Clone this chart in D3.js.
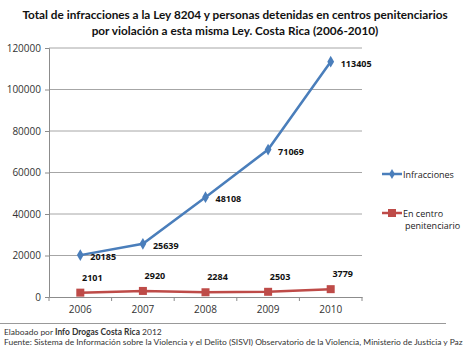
<!DOCTYPE html>
<html>
<head>
<meta charset="utf-8">
<script src="https://cdn.jsdelivr.net/npm/d3@7"></script>
<style>
  body { margin: 0; background: #fff; }
  svg { display: block; }
  text { font-family: "Open Sans", "DejaVu Sans", sans-serif; }
</style>
</head>
<body>
<div id="chart"></div>
<script>
// chart data
const years = ["2006", "2007", "2008", "2009", "2010"];
const infracciones = [20185, 25639, 48108, 71069, 113405];
const enCentro = [2101, 2920, 2284, 2503, 3779];
const yTicks = [0, 20000, 40000, 60000, 80000, 100000, 120000];

const titleLines = [
    "Total de infracciones a la Ley 8204 y personas detenidas en centros penitenciarios",
    "por violación a esta misma Ley. Costa Rica (2006-2010)"
];

// dimensions
const width = 470, height = 349;
const plot = { left: 49, right: 362, top: 48, bottom: 297 };

const svg = d3.select("#chart").append("svg")
    .attr("width", width)
    .attr("height", height);

// title, sized so the first line fits the width seen in the reference
const titles = svg.append("g").selectAll("text")
    .data(titleLines)
    .enter()
    .append("text")
    .attr("x", 235)
    .attr("y", (d, i) => 19 + i * 16)
    .attr("text-anchor", "middle")
    .attr("font-size", "13px")
    .attr("font-weight", "bold")
    .attr("fill", "#111")
    .style("font-family", "Lato, sans-serif")
    .text(d => d);
const firstLen = titles.node().getComputedTextLength();
const titleSize = Math.min(13, 13 * 426 / firstLen);
titles.attr("font-size", titleSize + "px");

// scales
const xScale = d3.scaleBand()
    .domain(years)
    .range([plot.left, plot.right]);

const yScale = d3.scaleLinear()
    .domain([0, 120000])
    .range([plot.bottom, plot.top]);

// gridlines
svg.append("g")
    .selectAll("line")
    .data(yTicks.filter(d => d > 0))
    .enter()
    .append("line")
    .attr("x1", plot.left)
    .attr("x2", plot.right)
    .attr("y1", d => yScale(d))
    .attr("y2", d => yScale(d))
    .attr("stroke", "#a6a6a6")
    .attr("stroke-width", 1);

// y axis
const yAxis = svg.append("g")
    .attr("transform", `translate(${plot.left},0)`)
    .call(d3.axisLeft(yScale).tickValues(yTicks).tickSize(4).tickPadding(4).tickFormat(d3.format("d")));
yAxis.select(".domain").attr("stroke", "#8c8c8c");
yAxis.selectAll(".tick line").attr("stroke", "#8c8c8c");
yAxis.selectAll("text").attr("font-size", "10px").attr("fill", "#333")
    .style("font-family", "'Open Sans', sans-serif");

// x axis
const xAxis = svg.append("g")
    .attr("transform", `translate(0,${plot.bottom})`)
    .call(d3.axisBottom(xScale).tickSize(0).tickPadding(9));
xAxis.select(".domain").attr("stroke", "#8c8c8c");
xAxis.selectAll("text").attr("font-size", "10px").attr("fill", "#333")
    .style("font-family", "'Open Sans', sans-serif");

// x tick marks at category boundaries
const bounds = years.map(y => xScale(y)).concat([xScale(years[years.length - 1]) + xScale.bandwidth()]);
svg.append("g")
    .selectAll("line")
    .data(bounds)
    .enter()
    .append("line")
    .attr("x1", d => d)
    .attr("x2", d => d)
    .attr("y1", plot.bottom)
    .attr("y2", plot.bottom + 4)
    .attr("stroke", "#8c8c8c");

const xCenter = (d, i) => xScale(years[i]) + xScale.bandwidth() / 2;

const lineGen = d3.line()
    .x((d, i) => xCenter(d, i))
    .y(d => yScale(d));

const blue = "#4a7ebb";
const red = "#be4b48";

// red series
svg.append("path")
    .datum(enCentro)
    .attr("d", lineGen)
    .attr("fill", "none")
    .attr("stroke", red)
    .attr("stroke-width", 2.5);

svg.append("g")
    .selectAll("rect")
    .data(enCentro)
    .enter()
    .append("rect")
    .attr("x", (d, i) => xCenter(d, i) - 4)
    .attr("y", d => yScale(d) - 4)
    .attr("width", 8)
    .attr("height", 8)
    .attr("fill", red);

// blue series
svg.append("path")
    .datum(infracciones)
    .attr("d", lineGen)
    .attr("fill", "none")
    .attr("stroke", blue)
    .attr("stroke-width", 2.5);

svg.append("g")
    .selectAll("path")
    .data(infracciones)
    .enter()
    .append("path")
    .attr("d", d3.symbol().type(d3.symbolDiamond).size(40))
    .attr("transform", (d, i) => `translate(${xCenter(d, i)},${yScale(d)})`)
    .attr("fill", blue);

// data labels
svg.append("g")
    .selectAll("text")
    .data(infracciones)
    .enter()
    .append("text")
    .attr("x", (d, i) => xCenter(d, i) + 10)
    .attr("y", d => yScale(d) + 5)
    .attr("font-size", "9px")
    .attr("font-weight", "bold")
    .attr("fill", "#111")
    .text(d => d);

svg.append("g")
    .selectAll("text")
    .data(enCentro)
    .enter()
    .append("text")
    .attr("x", (d, i) => xCenter(d, i) + 12)
    .attr("y", d => yScale(d) - 12)
    .attr("text-anchor", "middle")
    .attr("font-size", "9px")
    .attr("font-weight", "bold")
    .attr("fill", "#111")
    .text(d => d);

// legend
const legend = svg.append("g");
const legendItems = [
    { name: ["Infracciones"], color: blue, y: 174, shape: "diamond" },
    { name: ["En centro", "penitenciario"], color: red, y: 213, shape: "square" }
];
legendItems.forEach(item => {
    legend.append("line")
        .attr("x1", 382).attr("x2", 402)
        .attr("y1", item.y).attr("y2", item.y)
        .attr("stroke", item.color).attr("stroke-width", 2.5);
    if (item.shape === "diamond") {
        legend.append("path")
            .attr("d", d3.symbol().type(d3.symbolDiamond).size(30))
            .attr("transform", `translate(392,${item.y})`)
            .attr("fill", item.color);
    } else {
        legend.append("rect")
            .attr("x", 388).attr("y", item.y - 4)
            .attr("width", 8).attr("height", 8)
            .attr("fill", item.color);
    }
    item.name.forEach((n, i) => {
        legend.append("text")
            .attr("x", i === 0 ? 403 : 405)
            .attr("y", item.y + 3.5 + i * 12)
            .attr("font-size", "9px")
            .attr("fill", "#222")
            .text(n);
    });
});

// footer
svg.append("line")
    .attr("x1", 0).attr("x2", 446)
    .attr("y1", 323.5).attr("y2", 323.5)
    .attr("stroke", "#999");

// second footer line, sized to the reference width
const foot2 = svg.append("text")
    .attr("x", 4).attr("y", 345)
    .attr("font-size", "9px")
    .attr("fill", "#333")
    .style("font-family", "Lato, sans-serif")
    .text("Fuente: Sistema de Información sobre la Violencia y el Delito (SISVI) Observatorio de la Violencia, Ministerio de Justicia y Paz");
const footSize = Math.min(9, 9 * 459 / foot2.node().getComputedTextLength());
foot2.attr("font-size", footSize + "px");

// first footer line: plain / bold / plain pieces laid out one after another
const footParts = [
    { t: "Elaboado por ", bold: false },
    { t: "Info Drogas Costa Rica", bold: true },
    { t: " 2012", bold: false }
];
let fx = 4;
footParts.forEach(p => {
    const t = svg.append("text")
        .attr("x", fx).attr("y", 335)
        .attr("font-size", footSize + "px")
        .attr("font-weight", p.bold ? "bold" : "normal")
        .attr("fill", "#333")
        .attr("xml:space", "preserve")
        .style("white-space", "pre")
        .style("font-family", "Lato, sans-serif")
        .text(p.t);
    fx += t.node().getComputedTextLength();
});
</script>
</body>
</html>
